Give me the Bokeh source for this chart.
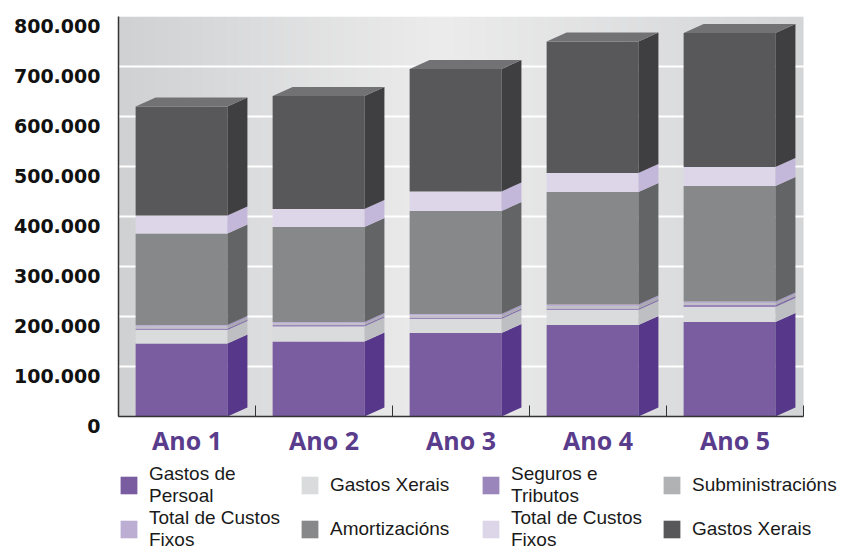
import numpy as np
from bokeh.plotting import figure
from bokeh.layouts import column
from bokeh.models import (Range1d, FixedTicker, Legend, LegendItem, ColumnDataSource,
                          LinearAxis)
from bokeh.embed import file_html
from bokeh.resources import INLINE

# ---- data -------------------------------------------------------------
years = ["Ano 1", "Ano 2", "Ano 3", "Ano 4", "Ano 5"]

gastos_persoal = [146000, 150000, 167000, 183000, 189000]
gastos_xerais_var = [27000, 30000, 28000, 30000, 30000]
seguros_tributos = [3000, 3000, 3000, 3000, 4000]
subministracions = [4000, 3000, 4000, 5000, 4000]
total_custos_fixos_a = [3000, 3000, 3000, 3000, 3000]
amortizacions = [183000, 190000, 206000, 225000, 231000]
total_custos_fixos_b = [36000, 36000, 39000, 38000, 38000]
gastos_xerais_fix = [218000, 226000, 245000, 263000, 268000]

series_values = [gastos_persoal, gastos_xerais_var, seguros_tributos,
                 subministracions, total_custos_fixos_a, amortizacions,
                 total_custos_fixos_b, gastos_xerais_fix]
series_labels = ["Gastos de\nPersoal", "Gastos Xerais", "Seguros e\nTributos",
                 "Subministracións", "Total de Custos\nFixos", "Amortizacións",
                 "Total de Custos\nFixos", "Gastos Xerais"]

y_ticks = [0, 100000, 200000, 300000, 400000, 500000, 600000, 700000, 800000]
y_tick_labels = ["0", "100.000", "200.000", "300.000", "400.000",
                 "500.000", "600.000", "700.000", "800.000"]

# ---- styling ----------------------------------------------------------
front_colors = ["#795da0", "#dadbdd", "#9a86bb", "#c0c0c6",
                "#bcaed3", "#87888a", "#ddd6e8", "#58585a"]
legend_colors = ["#795da0", "#dadbdd", "#9a86bb", "#b1b2b4",
                 "#bcaed3", "#87888a", "#ddd6e8", "#58585a"]
side_colors = ["#56378a", "#bebfc2", "#8270a8", "#a8a8ae",
               "#a597c2", "#636466", "#c3b7da", "#3f3f41"]
top_color = "#727274"
axis_color = "#333333"

W = 854
CHART_H, LEGEND_H = 463, 89
LEFT, TOP = 118, 16
WALL_RIGHT = 803                     # right edge of the back wall, in page pixels
Y_MIN, Y_MAX = -20000, 800000        # a little room under the floor for the "0" label
UNITS_PER_PX = 2000                  # 100.000 per 50 px
frame_h = (Y_MAX - Y_MIN) // UNITS_PER_PX
wall_w = WALL_RIGHT - LEFT
px_x = len(years) / wall_w           # x units per pixel
x_end = len(years) + (W - WALL_RIGHT) * px_x

bar_off = 0.125
bar_w = 0.67
depth_x = 20 * px_x
depth_y = 9 * UNITS_PER_PX
label_shift = 9 * UNITS_PER_PX       # value labels sit on the front edge of the floor

p = figure(width=W, height=CHART_H,
           output_backend="svg", toolbar_location=None,
           x_range=Range1d(0, x_end), y_range=Range1d(Y_MIN, Y_MAX),
           min_border_left=LEFT, min_border_right=0,
           min_border_top=TOP, min_border_bottom=CHART_H - TOP - frame_h,
           x_axis_location=None, y_axis_location=None)
p.background_fill_color = "white"
p.border_fill_color = "white"
p.outline_line_color = None

# back wall with a soft horizontal gradient
n = wall_w
xs_px = np.arange(n)
stops_x = [0, 320, n - 1]
stops_c = [(0xd0, 0xd1, 0xd3), (0xec, 0xec, 0xec), (0xd4, 0xd5, 0xd7)]
img = np.empty((1, n), dtype=np.uint32)
view = img.view(dtype=np.uint8).reshape((1, n, 4))
for ch in range(3):
    view[0, :, ch] = np.interp(xs_px, stops_x, [c[ch] for c in stops_c]).astype(np.uint8)
view[0, :, 3] = 255
p.image_rgba(image=[img], x=0, y=0, dw=len(years), dh=Y_MAX, level="image")

# grid
p.xgrid.visible = False
p.ygrid.ticker = FixedTicker(ticks=y_ticks[1:-1])
p.ygrid.bounds = (0, len(years))
p.ygrid.grid_line_color = "white"
p.ygrid.grid_line_width = 2

# stacked 3D columns
idx = np.arange(len(years))
lefts = idx + bar_off
rights = lefts + bar_w
bottom = np.zeros(len(years))
n_layers = len(series_values)
for k, vals in enumerate(series_values):
    top = bottom + np.array(vals, dtype=float)
    src = ColumnDataSource(dict(left=lefts, right=rights, bottom=bottom.copy(), top=top.copy()))
    p.quad(left="left", right="right", bottom="bottom", top="top", source=src,
           fill_color=front_colors[k], line_color=None)
    side_xs = [[rr, rr + depth_x, rr + depth_x, rr] for rr in rights]
    side_ys = [[b, b + depth_y, t + depth_y, t] for b, t in zip(bottom, top)]
    p.patches(xs=side_xs, ys=side_ys, fill_color=side_colors[k], line_color=None)
    if k == n_layers - 1:
        top_xs = [[l, l + depth_x, rr + depth_x, rr] for l, rr in zip(lefts, rights)]
        top_ys = [[t, t + depth_y, t + depth_y, t] for t in top]
        p.patches(xs=top_xs, ys=top_ys, fill_color=top_color, line_color=None)
    bottom = top

# axis lines and category separators on the floor
p.segment(x0=[0, 0], y0=[0, 0], x1=[0, len(years)], y1=[Y_MAX, 0],
          line_color=axis_color, line_width=1.5, level="overlay")
bounds = list(range(len(years) + 1))
p.segment(x0=bounds, y0=[0] * len(bounds), x1=bounds, y1=[11 * UNITS_PER_PX] * len(bounds),
          line_color=axis_color, line_width=1, level="overlay")

# value axis (labels on the front edge)
p.extra_y_ranges = {"front": Range1d(Y_MIN + label_shift, Y_MAX + label_shift)}
ya = LinearAxis(y_range_name="front", ticker=FixedTicker(ticks=y_ticks))
ya.major_label_overrides = {t: s for t, s in zip(y_ticks, y_tick_labels)}
ya.major_tick_in = 0
ya.major_tick_out = 0
ya.minor_tick_in = 0
ya.minor_tick_out = 0
ya.axis_line_color = None
ya.major_label_standoff = 18
ya.major_label_text_font = "DejaVu Sans"
ya.major_label_text_font_style = "bold"
ya.major_label_text_font_size = "19px"
ya.major_label_text_color = "#111111"
p.add_layout(ya, "left")

# category axis
centers = [i + 0.5 for i in range(len(years))]
xa = LinearAxis(ticker=FixedTicker(ticks=centers))
xa.major_label_overrides = {c: y for c, y in zip(centers, years)}
xa.major_tick_in = 0
xa.major_tick_out = 0
xa.minor_tick_in = 0
xa.minor_tick_out = 0
xa.axis_line_color = None
xa.major_label_standoff = -4
xa.major_label_text_font = "Open Sans"
xa.major_label_text_font_style = "bold"
xa.major_label_text_font_size = "25px"
xa.major_label_text_color = "#5a3c8c"
p.add_layout(xa, "below")

# legend strip under the chart: four columns, two rows
lg = figure(width=W, height=LEGEND_H, output_backend="svg", toolbar_location=None,
            x_range=Range1d(0, 1), y_range=Range1d(0, 1),
            min_border_left=LEFT, min_border_right=0, min_border_top=0, min_border_bottom=0,
            x_axis_location=None, y_axis_location=None)
lg.outline_line_color = None
lg.grid.visible = False
lg.background_fill_color = "white"
lg.border_fill_color = "white"
swatches = [lg.quad(left=[np.nan], right=[np.nan], bottom=[np.nan], top=[np.nan],
                    fill_color=c, line_color=None)
            for c in legend_colors]
items = [LegendItem(label=lab, renderers=[r]) for lab, r in zip(series_labels, swatches)]
leg = Legend(items=items, orientation="horizontal", ncols=4, location="top_left",
             padding=0, margin=0, spacing=0,
             glyph_width=21, glyph_height=22, label_standoff=10, label_width=150,
             label_text_font="Liberation Sans", label_text_font_size="19px",
             label_text_color="#1a1a1a",
             background_fill_alpha=0, border_line_color=None)
lg.add_layout(leg, "center")

open("out.html", "w").write(file_html(column(p, lg, spacing=0), INLINE))
